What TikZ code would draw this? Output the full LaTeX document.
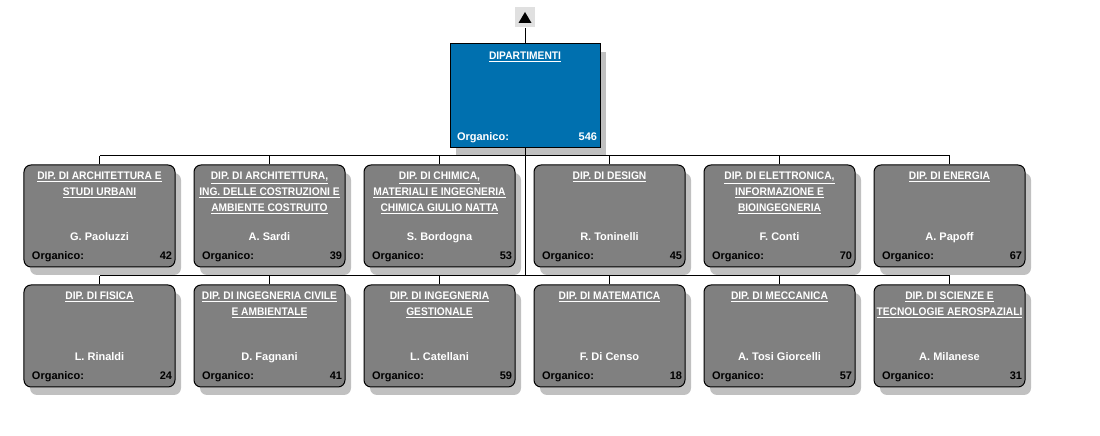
\documentclass[tikz,border=0pt]{standalone}
\usepackage{fontspec}
\setmainfont{Liberation Sans}
\newfontfamily\capsfont{Liberation Sans}[FakeStretch=0.93]
\usetikzlibrary{shadows}
\definecolor{dipblue}{RGB}{0,112,175}
\definecolor{boxgrey}{RGB}{128,128,128}
\definecolor{shadowgrey}{RGB}{192,192,192}
\definecolor{btngrey}{RGB}{224,224,224}
\newcommand{\uln}[1]{\underline{#1}}
\tikzset{
	boxshadow/.style={drop shadow={shadow xshift=6bp, shadow yshift=-8bp, fill=shadowgrey, opacity=1}},
	deptbox/.style={draw=black, fill=boxgrey, rounded corners=7bp, minimum width=151bp, minimum height=102bp, inner sep=0pt, boxshadow},
	headbox/.style={draw=black, fill=dipblue, minimum width=150bp, minimum height=104bp, inner sep=0pt, boxshadow},
	ttltext/.style={text=white, font=\capsfont\bfseries\fontsize{11bp}{16bp}\selectfont, align=center, inner sep=0pt, anchor=north},
	infotext/.style={font=\bfseries\fontsize{11bp}{16bp}\selectfont, inner sep=0pt},
}
\begin{document}
\begin{tikzpicture}[
		x={(1bp,0bp)},
		y={(0bp,-1bp)},
		line width=1bp,
	]
		\useasboundingbox (0,0) rectangle (1100,436);
		
		% head of the chart
		\node[draw=white, fill=btngrey, minimum size=21bp, inner sep=0pt] (up) at (525,17) {};
		\fill ([shift={(-6.5,6)}]up.center) -- ([shift={(6.5,6)}]up.center) -- ([shift={(0,-5)}]up.center) -- cycle;
		\node[headbox] (dip) at (525,96) {};
		\node[ttltext] at ([yshift=-8bp]dip.north) {\uln{DIPARTIMENTI}};
		\node[infotext, text=white, anchor=base west] at ([xshift=7bp,yshift=8bp]dip.south west) {Organico:};
		\node[infotext, text=white, anchor=base east] at ([xshift=-3bp,yshift=8bp]dip.south east) {546};
		
		% departments
		\foreach \n/\row/\col/\ttl/\who/\org in {
			1/0/0/{\uln{DIP. DI ARCHITETTURA E}\\\uln{STUDI URBANI}}/G. Paoluzzi/42,
			2/0/1/{\uln{DIP. DI ARCHITETTURA,}\\\uln{ING. DELLE COSTRUZIONI E}\\\uln{AMBIENTE COSTRUITO}}/A. Sardi/39,
			3/0/2/{\uln{DIP. DI CHIMICA,}\\\uln{MATERIALI E INGEGNERIA}\\\uln{CHIMICA GIULIO NATTA}}/S. Bordogna/53,
			4/0/3/{\uln{DIP. DI DESIGN}}/R. Toninelli/45,
			5/0/4/{\uln{DIP. DI ELETTRONICA,}\\\uln{INFORMAZIONE E}\\\uln{BIOINGEGNERIA}}/F. Conti/70,
			6/0/5/{\uln{DIP. DI ENERGIA}}/A. Papoff/67,
			7/1/0/{\uln{DIP. DI FISICA}}/L. Rinaldi/24,
			8/1/1/{\uln{DIP. DI INGEGNERIA CIVILE}\\\uln{E AMBIENTALE}}/D. Fagnani/41,
			9/1/2/{\uln{DIP. DI INGEGNERIA}\\\uln{GESTIONALE}}/L. Catellani/59,
			10/1/3/{\uln{DIP. DI MATEMATICA}}/F. Di Censo/18,
			11/1/4/{\uln{DIP. DI MECCANICA}}/A. Tosi Giorcelli/57,
			12/1/5/{\uln{DIP. DI SCIENZE E}\\\uln{TECNOLOGIE AEROSPAZIALI}}/A. Milanese/31}{
			\node[deptbox] (dep\n) at ({99.5+170*\col},{216+120*\row}) {};
			\node[ttltext] at ([yshift=-7bp]dep\n.north) {\ttl};
			\node[infotext, text=white, anchor=base] at ([yshift=27bp]dep\n.south) {\who};
			\node[infotext, anchor=base west] at ([xshift=8bp,yshift=8bp]dep\n.south west) {Organico:};
			\node[infotext, anchor=base east] at ([xshift=-3bp,yshift=8bp]dep\n.south east) {\org};
		}
		
		% connectors
		\coordinate (topbus) at (525,156);
		\coordinate (lowbus) at (525,276);
		\draw (up.south) -- (dip.north);
		\draw (dip.south) -- (lowbus);
		\draw (dep1.north |- topbus) -- (dep6.north |- topbus);
		\draw (dep7.north |- lowbus) -- (dep12.north |- lowbus);
		\foreach \n in {1,...,6}
			\draw (dep\n.north) -- (dep\n.north |- topbus);
		\foreach \n in {7,...,12}
			\draw (dep\n.north) -- (dep\n.north |- lowbus);
	\end{tikzpicture}
\end{document}
